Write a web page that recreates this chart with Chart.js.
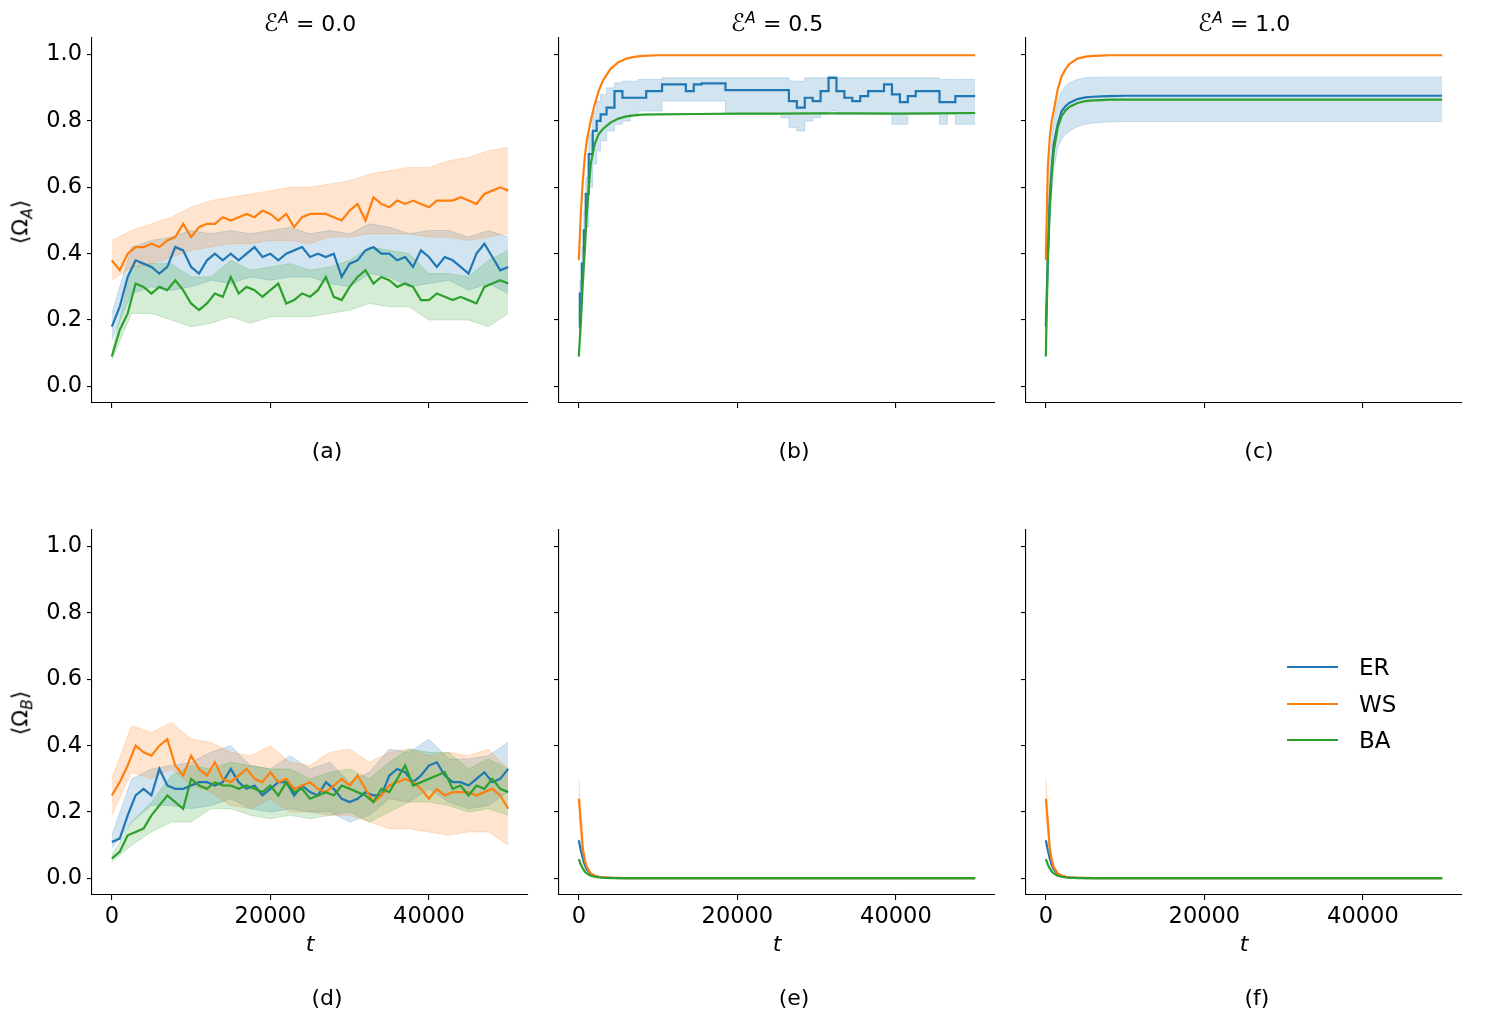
<!DOCTYPE html>
<html>
<head>
<meta charset="utf-8">
<script src="https://cdn.jsdelivr.net/npm/chart.js@4.4.1/dist/chart.umd.min.js"></script>
<style>
  body { margin: 0; background: #fff; width: 1503px; height: 1019px; position: relative; overflow: hidden;
         font-family: "DejaVu Sans", sans-serif; color: #000; }
  canvas { position: absolute; }
  .lab { position: absolute; font-size: 22px; white-space: nowrap; transform: translate(-50%, -50%); }
  .ylab { position: absolute; font-size: 22px; white-space: nowrap; transform: translate(-50%, -50%) rotate(-90deg); }
  .leg { position: absolute; font-size: 23px; white-space: nowrap; transform: translateY(-50%); }
  .sw { position: absolute; width: 51px; height: 2px; }
  sup, sub { font-size: 70%; }
  .cal { font-size: 110%; }
</style>
</head>
<body>

<canvas id="pa"></canvas><canvas id="pb"></canvas><canvas id="pc"></canvas>
<canvas id="pd"></canvas><canvas id="pe"></canvas><canvas id="pf"></canvas>

<div class="lab" style="left:310px;top:23px"><span class="cal">&#x2130;</span><sup><i>A</i></sup> = 0.0</div>
<div class="lab" style="left:777px;top:23px"><span class="cal">&#x2130;</span><sup><i>A</i></sup> = 0.5</div>
<div class="lab" style="left:1244px;top:23px"><span class="cal">&#x2130;</span><sup><i>A</i></sup> = 1.0</div>

<div class="ylab" style="left:22px;top:222px">&#x27E8;&Omega;<sub><i>A</i></sub>&#x27E9;</div>
<div class="ylab" style="left:22px;top:713px">&#x27E8;&Omega;<sub><i>B</i></sub>&#x27E9;</div>

<div class="lab" style="left:310px;top:943px"><i>t</i></div>
<div class="lab" style="left:777px;top:943px"><i>t</i></div>
<div class="lab" style="left:1244px;top:943px"><i>t</i></div>

<div class="lab" style="left:327px;top:450px">(a)</div>
<div class="lab" style="left:794px;top:450px">(b)</div>
<div class="lab" style="left:1259px;top:450px">(c)</div>
<div class="lab" style="left:327px;top:997px">(d)</div>
<div class="lab" style="left:794px;top:997px">(e)</div>
<div class="lab" style="left:1257px;top:997px">(f)</div>

<div class="sw" style="left:1287px;top:666px;background:#1f77b4"></div>
<div class="sw" style="left:1287px;top:703px;background:#ff7f0e"></div>
<div class="sw" style="left:1287px;top:739px;background:#2ca02c"></div>
<div class="leg" style="left:1359px;top:667px">ER</div>
<div class="leg" style="left:1359px;top:704px">WS</div>
<div class="leg" style="left:1359px;top:740px">BA</div>

<script>
// networks
const networks = ['ER', 'WS', 'BA'];
const xTicks = [0, 20000, 40000];
const yTicks = [0.0, 0.2, 0.4, 0.6, 0.8, 1.0];

// time grids
const tFine = [0,1000,2000,3000,4000,5000,6000,7000,8000,9000,10000,11000,12000,13000,14000,15000,16000,17000,18000,19000,20000,
  21000,22000,23000,24000,25000,26000,27000,28000,29000,30000,31000,32000,33000,34000,35000,36000,37000,38000,39000,40000,
  41000,42000,43000,44000,45000,46000,47000,48000,49000,50000];
const tBand = [0,2500,5000,7500,10000,12500,15000,17500,20000,22500,25000,27500,30000,32500,35000,37500,40000,42500,45000,47500,50000];
const tSat = [0,250,500,750,1000,1500,2000,2500,3000,4000,5000,6000,7000,8000,10000,15000,20000,25000,30000,35000,40000,45000,50000];
const tStep = [0,250,500,750,1000,1500,2000,2500,3000,4000,5000,6000,7000,8000,9000,10000,11000,12000,13000,14000,15000,16000,
  17000,18000,19000,20000,21000,22000,23000,24000,25000,26000,27000,28000,29000,30000,31000,32000,33000,34000,35000,36000,
  37000,38000,39000,40000,41000,42000,43000,44000,45000,46000,47000,48000,49000,50000];

// (a) Omega_A, E^A = 0.0
const aER = [0.18,0.24,0.33,0.38,0.37,0.36,0.34,0.36,0.42,0.41,0.36,0.34,0.38,0.40,0.38,0.40,0.38,0.40,0.42,0.39,0.40,0.38,0.40,0.41,0.42,0.39,0.40,0.39,0.40,0.33,0.37,0.38,0.41,0.42,0.40,0.40,0.38,0.39,0.36,0.41,0.39,0.36,0.39,0.38,0.36,0.34,0.40,0.43,0.39,0.35,0.36];
const aWS = [0.38,0.35,0.40,0.42,0.42,0.43,0.42,0.44,0.45,0.49,0.45,0.48,0.49,0.49,0.51,0.50,0.51,0.52,0.51,0.53,0.52,0.50,0.52,0.48,0.51,0.52,0.52,0.52,0.51,0.50,0.53,0.55,0.50,0.57,0.55,0.54,0.56,0.55,0.56,0.55,0.54,0.56,0.56,0.56,0.57,0.56,0.55,0.58,0.59,0.60,0.59];
const aBA = [0.09,0.17,0.22,0.31,0.30,0.28,0.30,0.29,0.32,0.29,0.25,0.23,0.25,0.28,0.27,0.33,0.28,0.30,0.29,0.27,0.29,0.31,0.25,0.26,0.28,0.27,0.29,0.33,0.27,0.26,0.30,0.33,0.35,0.31,0.33,0.32,0.30,0.31,0.30,0.26,0.26,0.28,0.27,0.26,0.27,0.26,0.25,0.30,0.31,0.32,0.31];
const aERlo = [0.14,0.28,0.30,0.29,0.30,0.32,0.31,0.33,0.32,0.33,0.33,0.31,0.30,0.34,0.33,0.30,0.31,0.32,0.29,0.31,0.28];
const aERhi = [0.22,0.42,0.44,0.45,0.47,0.46,0.47,0.46,0.47,0.48,0.46,0.47,0.46,0.49,0.48,0.46,0.47,0.47,0.45,0.47,0.45];
const aWSlo = [0.32,0.36,0.37,0.39,0.41,0.42,0.43,0.43,0.44,0.44,0.43,0.45,0.45,0.46,0.46,0.46,0.45,0.45,0.44,0.45,0.46];
const aWShi = [0.44,0.47,0.49,0.51,0.54,0.56,0.57,0.58,0.59,0.60,0.60,0.61,0.62,0.64,0.65,0.66,0.66,0.68,0.69,0.71,0.72];
const aBAlo = [0.08,0.22,0.22,0.20,0.18,0.19,0.21,0.19,0.21,0.21,0.21,0.22,0.23,0.25,0.24,0.24,0.20,0.20,0.20,0.18,0.22];
const aBAhi = [0.10,0.36,0.37,0.37,0.33,0.33,0.38,0.35,0.36,0.37,0.35,0.36,0.38,0.42,0.41,0.40,0.34,0.34,0.33,0.38,0.41];

// (b) Omega_A, E^A = 0.5
const bER = [0.18,0.28,0.37,0.47,0.58,0.70,0.77,0.80,0.82,0.84,0.89,0.87,0.87,0.87,0.89,0.89,0.91,0.91,0.91,0.89,0.91,0.913,
  0.913,0.913,0.893,0.893,0.893,0.893,0.893,0.893,0.893,0.893,0.86,0.84,0.87,0.86,0.89,0.93,0.89,0.87,0.86,0.875,
  0.89,0.89,0.91,0.88,0.857,0.875,0.89,0.89,0.89,0.857,0.857,0.875,0.875,0.875];
const bERlo = [0.15,0.24,0.32,0.40,0.48,0.60,0.67,0.71,0.74,0.77,0.79,0.80,0.82,0.83,0.83,0.83,0.86,0.86,0.86,0.86,0.86,0.86,
  0.86,0.86,0.82,0.82,0.82,0.82,0.82,0.82,0.82,0.81,0.78,0.77,0.80,0.81,0.82,0.83,0.82,0.82,0.82,0.82,
  0.82,0.82,0.82,0.79,0.79,0.82,0.82,0.82,0.82,0.79,0.82,0.79,0.79,0.79];
const bERhi = [0.20,0.32,0.42,0.53,0.63,0.76,0.83,0.86,0.88,0.90,0.915,0.92,0.92,0.925,0.925,0.925,0.93,0.93,0.93,0.93,0.93,0.93,
  0.93,0.93,0.93,0.93,0.93,0.93,0.93,0.93,0.93,0.93,0.92,0.92,0.93,0.93,0.93,0.935,0.93,0.93,0.93,0.93,
  0.93,0.93,0.93,0.93,0.93,0.93,0.93,0.93,0.93,0.925,0.925,0.925,0.925,0.925];
const bWS = [0.38,0.52,0.62,0.69,0.74,0.80,0.85,0.89,0.92,0.957,0.977,0.988,0.993,0.996,0.998,0.998,0.998,0.998,0.998,0.998,0.998,0.998,0.998];
const bBA = [0.09,0.19,0.31,0.41,0.52,0.67,0.73,0.76,0.775,0.795,0.807,0.814,0.817,0.819,0.82,0.821,0.822,0.822,0.823,0.823,0.822,0.823,0.824];

// (c) Omega_A, E^A = 1.0
const cER = [0.18,0.39,0.57,0.66,0.73,0.79,0.83,0.845,0.855,0.866,0.871,0.873,0.874,0.875,0.876,0.876,0.876,0.876,0.876,0.876,0.876,0.876,0.876];
const cERlo = [0.16,0.33,0.48,0.58,0.65,0.72,0.745,0.76,0.77,0.783,0.79,0.794,0.796,0.797,0.798,0.798,0.798,0.798,0.798,0.798,0.798,0.798,0.798];
const cERhi = [0.20,0.45,0.66,0.74,0.80,0.86,0.89,0.905,0.915,0.925,0.93,0.931,0.932,0.932,0.932,0.932,0.932,0.932,0.932,0.932,0.932,0.932,0.932];
const cWS = [0.38,0.66,0.75,0.80,0.83,0.895,0.935,0.957,0.972,0.988,0.994,0.996,0.997,0.998,0.998,0.998,0.998,0.998,0.998,0.998,0.998,0.998,0.998];
const cBA = [0.09,0.38,0.54,0.64,0.71,0.78,0.815,0.832,0.843,0.854,0.86,0.862,0.863,0.864,0.864,0.864,0.864,0.864,0.864,0.864,0.864,0.864,0.864];

// (d) Omega_B, E^A = 0.0
const dER = [0.11,0.12,0.19,0.25,0.27,0.25,0.33,0.28,0.27,0.27,0.28,0.29,0.29,0.28,0.29,0.33,0.29,0.27,0.28,0.25,0.27,0.29,0.29,0.25,0.28,0.26,0.25,0.29,0.27,0.24,0.23,0.24,0.26,0.25,0.25,0.31,0.33,0.32,0.29,0.31,0.34,0.35,0.31,0.29,0.29,0.28,0.30,0.32,0.29,0.30,0.33];
const dWS = [0.25,0.29,0.34,0.40,0.38,0.37,0.40,0.42,0.34,0.31,0.37,0.33,0.31,0.35,0.30,0.29,0.31,0.33,0.30,0.29,0.32,0.29,0.30,0.27,0.28,0.29,0.27,0.26,0.28,0.30,0.28,0.31,0.27,0.23,0.25,0.28,0.29,0.30,0.29,0.27,0.24,0.27,0.25,0.26,0.26,0.26,0.25,0.26,0.27,0.25,0.21];
const dBA = [0.06,0.08,0.13,0.14,0.15,0.19,0.22,0.25,0.23,0.21,0.30,0.28,0.27,0.29,0.28,0.28,0.27,0.28,0.27,0.26,0.28,0.25,0.29,0.26,0.27,0.24,0.25,0.26,0.25,0.28,0.27,0.26,0.25,0.23,0.27,0.26,0.30,0.34,0.28,0.29,0.30,0.31,0.32,0.27,0.28,0.25,0.28,0.27,0.30,0.27,0.26];
const dERlo = [0.09,0.17,0.22,0.22,0.21,0.22,0.24,0.21,0.20,0.21,0.20,0.20,0.17,0.19,0.24,0.23,0.27,0.23,0.21,0.22,0.26];
const dERhi = [0.13,0.30,0.33,0.34,0.35,0.38,0.40,0.34,0.33,0.37,0.33,0.35,0.29,0.32,0.39,0.38,0.42,0.36,0.36,0.37,0.41];
const dWSlo = [0.19,0.32,0.30,0.33,0.28,0.26,0.22,0.21,0.24,0.20,0.20,0.19,0.19,0.17,0.15,0.15,0.14,0.13,0.14,0.14,0.10];
const dWShi = [0.30,0.46,0.44,0.47,0.42,0.41,0.38,0.37,0.40,0.35,0.34,0.38,0.39,0.35,0.38,0.39,0.37,0.38,0.37,0.39,0.33];
const dBAlo = [0.05,0.10,0.14,0.17,0.17,0.21,0.21,0.19,0.18,0.19,0.18,0.19,0.20,0.17,0.20,0.23,0.23,0.22,0.20,0.21,0.19];
const dBAhi = [0.07,0.17,0.23,0.31,0.34,0.33,0.35,0.34,0.33,0.33,0.30,0.32,0.33,0.30,0.35,0.39,0.38,0.38,0.33,0.36,0.33];

// (e) Omega_B, E^A = 0.5
const eER = [0.115,0.085,0.06,0.04,0.027,0.014,0.008,0.005,0.003,0.002,0.001,0.001,0.001,0.001,0.001,0.001,0.001,0.001,0.001,0.001,0.001,0.001,0.001];
const eWS = [0.24,0.17,0.09,0.055,0.034,0.015,0.008,0.005,0.003,0.002,0.002,0.001,0.001,0.001,0.001,0.001,0.001,0.001,0.001,0.001,0.001,0.001,0.001];
const eWSlo = [0.19,0.13,0.07,0.045,0.028,0.012,0.006,0.004,0.002,0.001,0.001,0.001,0.001,0.001,0.001,0.001,0.001,0.001,0.001,0.001,0.001,0.001,0.001];
const eWShi = [0.30,0.21,0.11,0.065,0.04,0.018,0.01,0.006,0.004,0.003,0.002,0.002,0.001,0.001,0.001,0.001,0.001,0.001,0.001,0.001,0.001,0.001,0.001];
const eBA = [0.058,0.042,0.03,0.021,0.015,0.008,0.005,0.003,0.002,0.001,0.001,0.001,0.001,0.001,0.001,0.001,0.001,0.001,0.001,0.001,0.001,0.001,0.001];

// (f) Omega_B, E^A = 1.0
const fER = [0.115,0.085,0.06,0.04,0.027,0.014,0.008,0.005,0.003,0.002,0.001,0.001,0.001,0.001,0.001,0.001,0.001,0.001,0.001,0.001,0.001,0.001,0.001];
const fWS = [0.24,0.17,0.09,0.055,0.034,0.015,0.008,0.005,0.003,0.002,0.002,0.001,0.001,0.001,0.001,0.001,0.001,0.001,0.001,0.001,0.001,0.001,0.001];
const fWSlo = [0.19,0.13,0.07,0.045,0.028,0.012,0.006,0.004,0.002,0.001,0.001,0.001,0.001,0.001,0.001,0.001,0.001,0.001,0.001,0.001,0.001,0.001,0.001];
const fWShi = [0.30,0.21,0.11,0.065,0.04,0.018,0.01,0.006,0.004,0.003,0.002,0.002,0.001,0.001,0.001,0.001,0.001,0.001,0.001,0.001,0.001,0.001,0.001];
const fBA = [0.058,0.042,0.03,0.021,0.015,0.008,0.005,0.003,0.002,0.001,0.001,0.001,0.001,0.001,0.001,0.001,0.001,0.001,0.001,0.001,0.001,0.001,0.001];

const lineColor = { ER: '#1f77b4', WS: '#ff7f0e', BA: '#2ca02c' };
const bandColor = { ER: 'rgba(31,119,180,0.2)', WS: 'rgba(255,127,14,0.2)', BA: 'rgba(44,160,44,0.2)' };
const stack = { ER: 2, WS: 1, BA: 0 };   // BA on top, like the original

// panel geometry (axes box in page pixels)
const colLeft = [92, 559, 1026];
const rowTop = [38, 530];
const axW = 436, axH = 365;
const padL = 80, padT = 10, padR = 10, padB = 60;

function pts(t, v) {
  return t.map((x, i) => ({ x: x, y: v[i] }));
}

function drawPanel(id, col, row, series) {
  const cv = document.getElementById(id);
  cv.width = axW + padL + padR;
  cv.height = axH + padT + padB;
  cv.style.left = (colLeft[col] - padL) + 'px';
  cv.style.top = (rowTop[row] - padT) + 'px';

  const datasets = [];
  series.forEach(s => {
    const st = s.stepped ? 'middle' : false;
    if (s.lo) {
      datasets.push({ data: pts(s.tb, s.hi), borderColor: bandColor[s.name], backgroundColor: bandColor[s.name],
        borderWidth: 1, fill: '+1', pointRadius: 0, stepped: st, order: 10 + stack[s.name] });
      datasets.push({ data: pts(s.tb, s.lo), borderColor: bandColor[s.name], borderWidth: 1,
        fill: false, pointRadius: 0, stepped: st, order: 10 + stack[s.name] });
    }
    datasets.push({ label: s.name, data: pts(s.t, s.v), borderColor: lineColor[s.name], borderWidth: 2.2,
      fill: false, pointRadius: 0, stepped: st, order: stack[s.name] });
  });

  const tickFont = { family: 'DejaVu Sans', size: 22.5 };
  new Chart(cv, {
    type: 'line',
    data: { datasets: datasets },
    options: {
      responsive: false,
      animation: false,
      events: [],
      layout: { padding: { top: padT, right: padR, left: 0, bottom: 0 } },
      elements: { line: { tension: 0 } },
      plugins: { legend: { display: false }, tooltip: { enabled: false } },
      scales: {
        x: {
          type: 'linear', min: -2500, max: 52500,
          afterBuildTicks: sc => { sc.ticks = xTicks.map(v => ({ value: v })); },
          afterFit: sc => { sc.height = padB; sc.paddingLeft = 0; sc.paddingRight = 0; },
          grid: { drawOnChartArea: false, drawTicks: true, tickLength: 5, color: '#000', lineWidth: 1.1 },
          border: { display: true, color: '#000', width: 1.1 },
          ticks: { color: '#000', font: tickFont, padding: 4, maxRotation: 0, autoSkip: false,
                   callback: v => row === 1 ? String(v) : '' }
        },
        y: {
          min: -0.05, max: 1.05,
          afterBuildTicks: sc => { sc.ticks = yTicks.map(v => ({ value: v })); },
          afterFit: sc => { sc.width = padL; sc.paddingTop = 0; sc.paddingBottom = 0; },
          grid: { drawOnChartArea: false, drawTicks: true, tickLength: 5, color: '#000', lineWidth: 1.1 },
          border: { display: true, color: '#000', width: 1.1 },
          ticks: { color: '#000', font: tickFont, padding: 5,
                   callback: v => col === 0 ? v.toFixed(1) : '' }
        }
      }
    }
  });
}

drawPanel('pa', 0, 0, [
  { name: 'ER', t: tFine, v: aER, tb: tBand, lo: aERlo, hi: aERhi },
  { name: 'WS', t: tFine, v: aWS, tb: tBand, lo: aWSlo, hi: aWShi },
  { name: 'BA', t: tFine, v: aBA, tb: tBand, lo: aBAlo, hi: aBAhi }
]);
drawPanel('pb', 1, 0, [
  { name: 'ER', t: tStep, v: bER, tb: tStep, lo: bERlo, hi: bERhi, stepped: true },
  { name: 'WS', t: tSat, v: bWS },
  { name: 'BA', t: tSat, v: bBA }
]);
drawPanel('pc', 2, 0, [
  { name: 'ER', t: tSat, v: cER, tb: tSat, lo: cERlo, hi: cERhi },
  { name: 'WS', t: tSat, v: cWS },
  { name: 'BA', t: tSat, v: cBA }
]);
drawPanel('pd', 0, 1, [
  { name: 'ER', t: tFine, v: dER, tb: tBand, lo: dERlo, hi: dERhi },
  { name: 'WS', t: tFine, v: dWS, tb: tBand, lo: dWSlo, hi: dWShi },
  { name: 'BA', t: tFine, v: dBA, tb: tBand, lo: dBAlo, hi: dBAhi }
]);
drawPanel('pe', 1, 1, [
  { name: 'ER', t: tSat, v: eER },
  { name: 'WS', t: tSat, v: eWS, tb: tSat, lo: eWSlo, hi: eWShi },
  { name: 'BA', t: tSat, v: eBA }
]);
drawPanel('pf', 2, 1, [
  { name: 'ER', t: tSat, v: fER },
  { name: 'WS', t: tSat, v: fWS, tb: tSat, lo: fWSlo, hi: fWShi },
  { name: 'BA', t: tSat, v: fBA }
]);
</script>
</body>
</html>
